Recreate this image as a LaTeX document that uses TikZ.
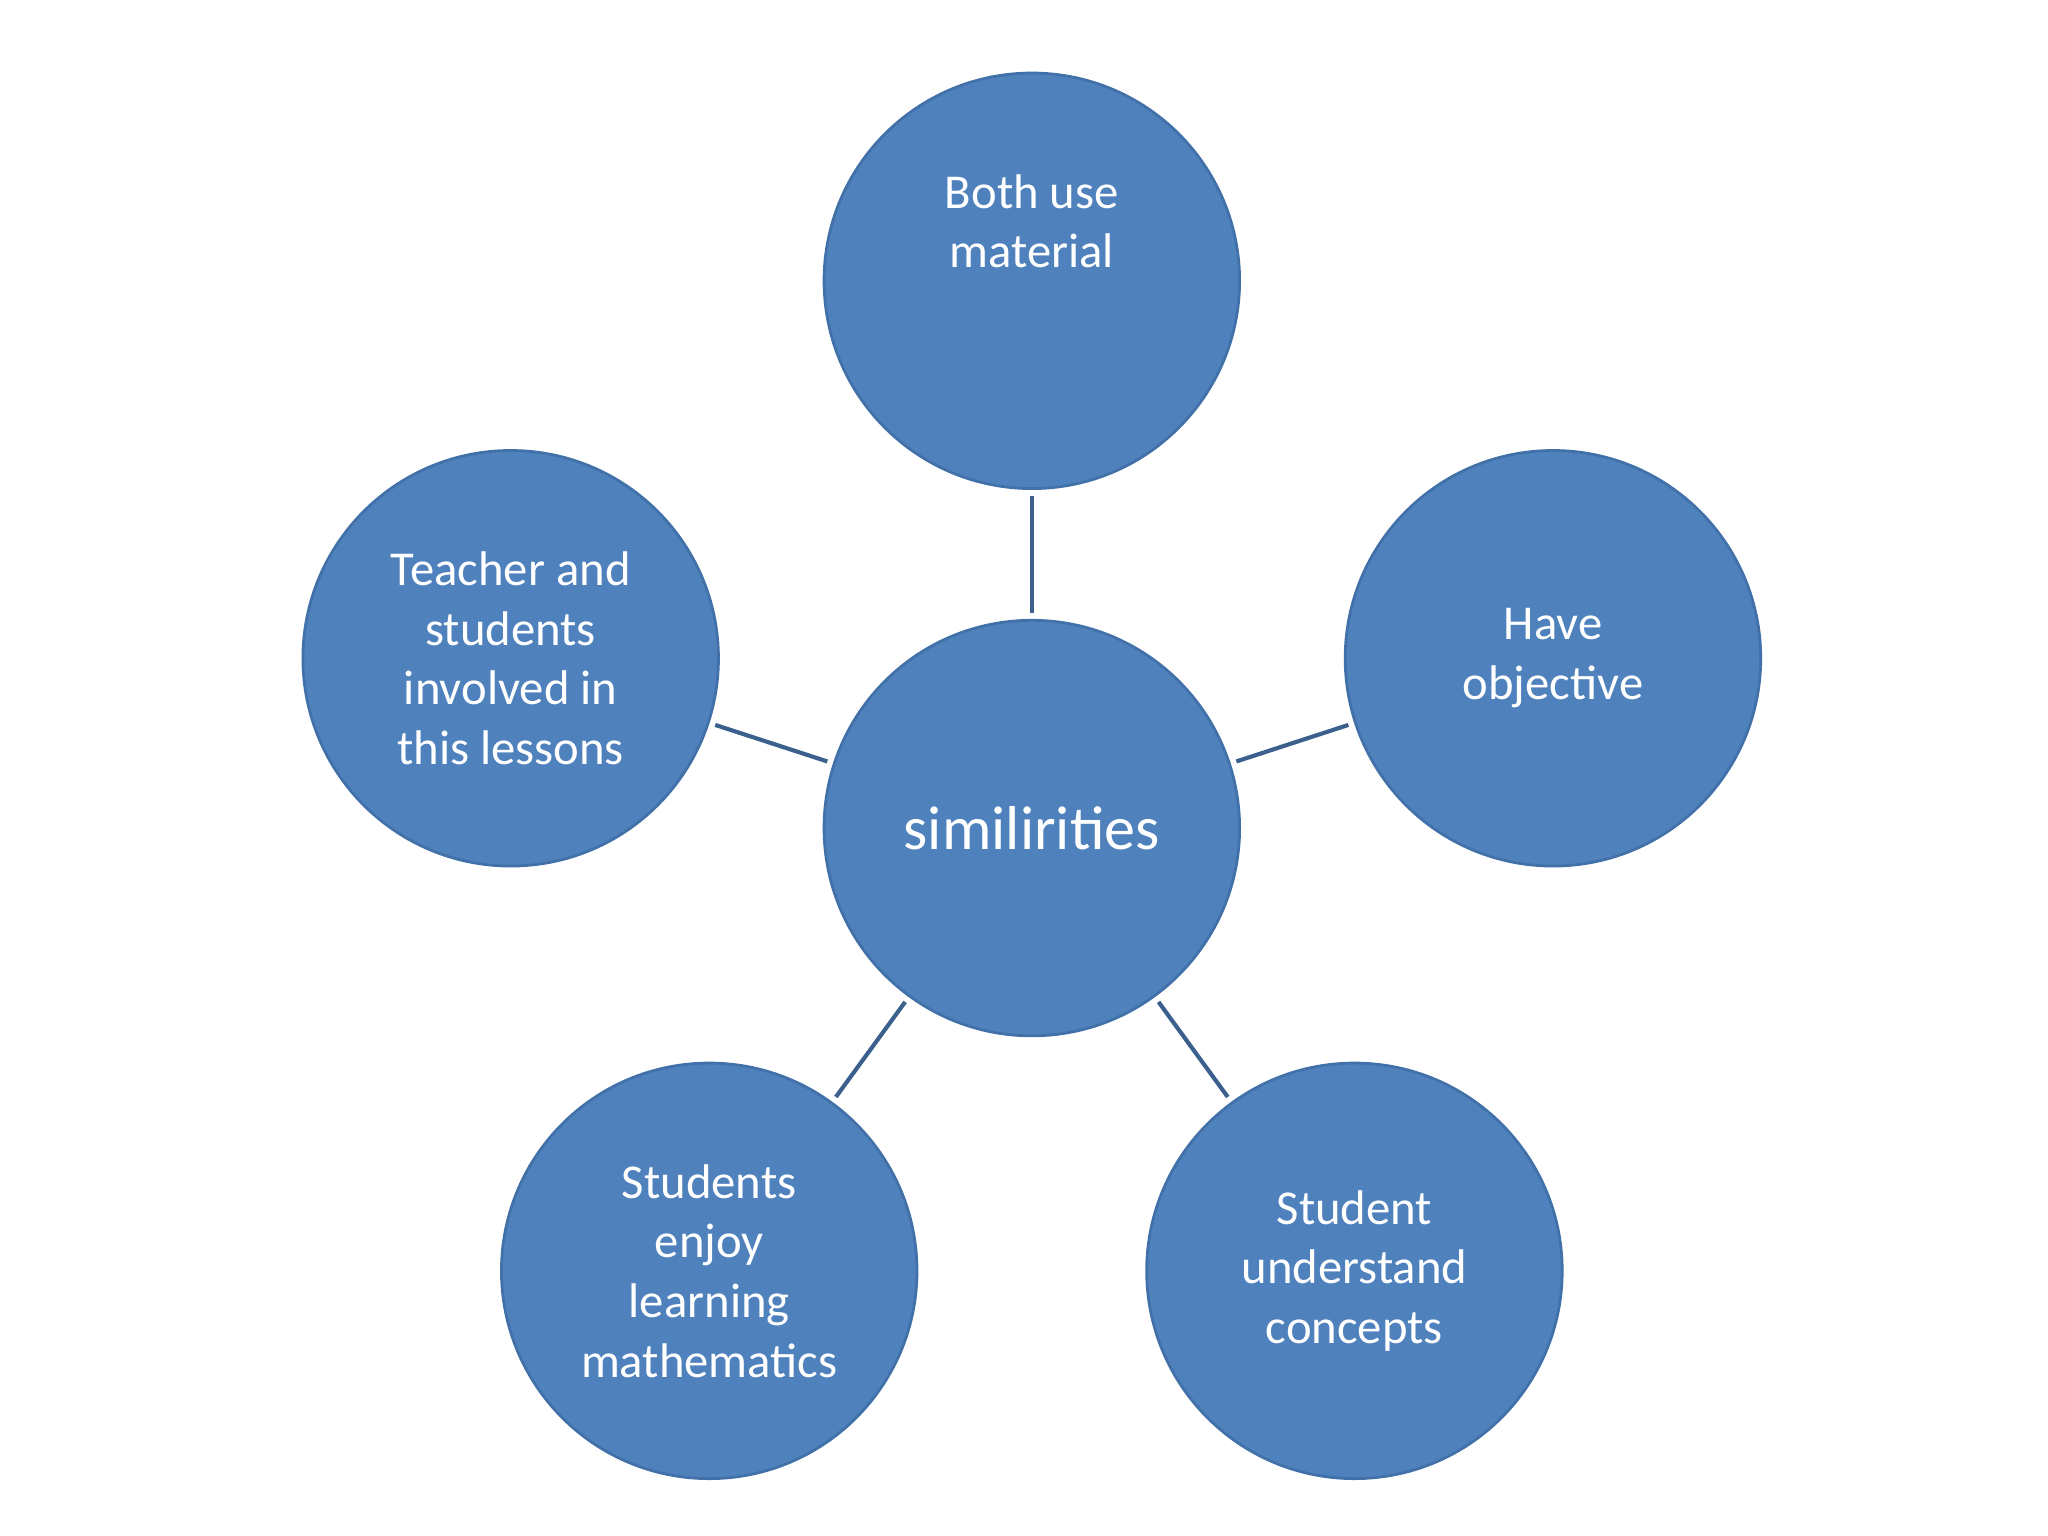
\documentclass[tikz,border=0pt]{standalone}
\usepackage{fontspec}
\setmainfont{Carlito}
\begin{document}
\begin{tikzpicture}[x=0.01cm,y=-0.01cm,
  bub/.style={circle,fill={rgb,255:red,79;green,129;blue,189},draw={rgb,255:red,65;green,113;blue,168},line width=0.6pt,minimum size=3.18cm,inner sep=0pt,text=white,align=center,font=\fontsize{10.6pt}{13pt}\selectfont},
  link/.style={draw={rgb,255:red,60;green,96;blue,142},line width=0.9pt,shorten >=1.3pt,shorten <=1.3pt}]
\useasboundingbox (0,0) rectangle (1568,1176);
\node[bub,font=\fontsize{13.5pt}{16pt}\selectfont] (c) at (790,634) {similirities};
\node[bub] (t) at (790,215) {Both use\\material\\[13pt]};
\node[bub] (l) at (391,504) {Teacher and\\students\\involved in\\this lessons};
\node[bub] (r) at (1189,504) {Have\\objective};
\node[bub] (bl) at (543,973) {Students\\enjoy\\learning\\mathematics};
\node[bub] (br) at (1037,973) {Student\\understand\\concepts};
\foreach \n in {t,l,r,bl,br} \draw[link] (c) -- (\n);
\end{tikzpicture}
\end{document}
